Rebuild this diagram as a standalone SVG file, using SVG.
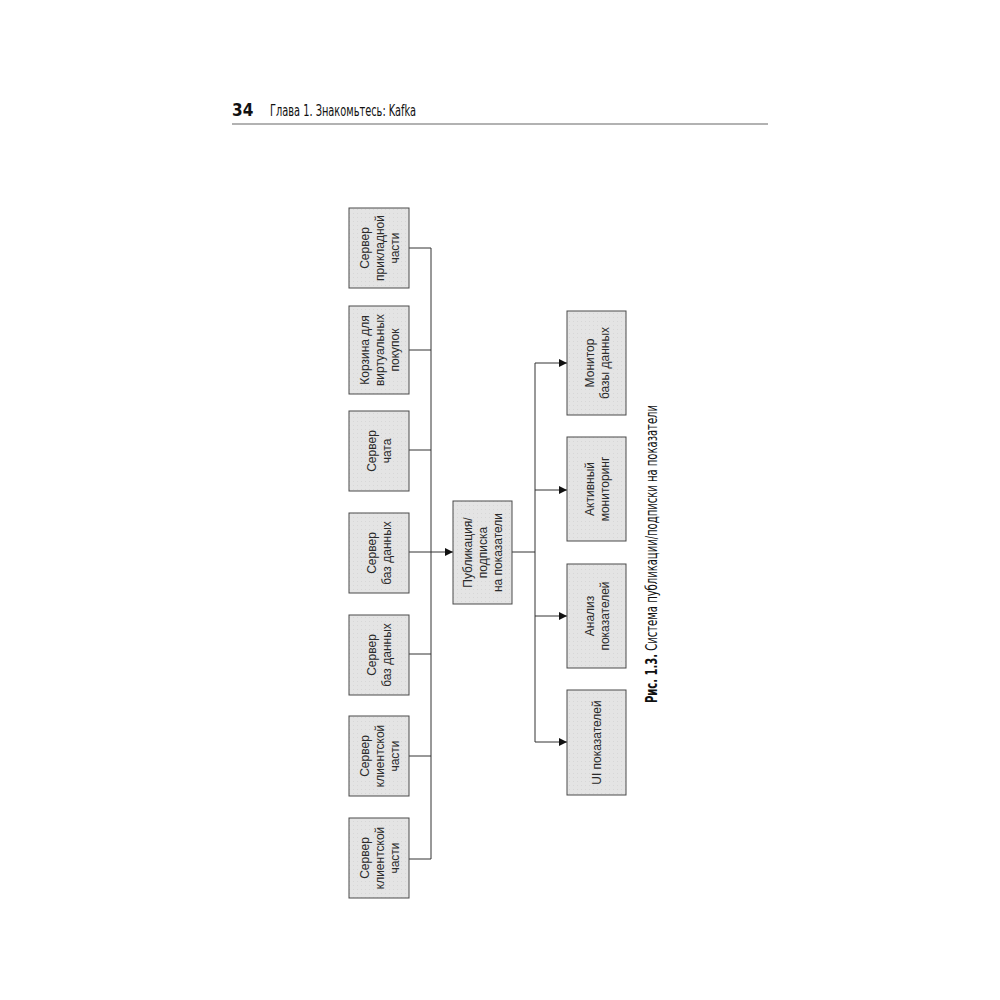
<svg xmlns="http://www.w3.org/2000/svg" width="1000" height="1000" viewBox="0 0 1000 1000">
<defs>
<pattern id="dots" width="4" height="4" patternUnits="userSpaceOnUse">
<rect width="4" height="4" fill="#e4e4e4"/>
<rect x="1" y="1" width="0.8" height="0.8" fill="#d0d0d0"/>
</pattern>
<marker id="arr" viewBox="0 0 10 10" refX="10" refY="5" markerWidth="10" markerHeight="8" markerUnits="userSpaceOnUse" orient="auto">
<path d="M0,0 L10,5 L0,10 Z" fill="#111"/>
</marker>
</defs>
<style>
.box{fill:url(#dots);stroke:#4a4a4a;stroke-width:1}
.t{font-family:"Liberation Sans",Arial,sans-serif;font-size:12px;fill:#2a2a2a;text-anchor:middle}
.ln{fill:none;stroke:#333;stroke-width:1}
.hdr{font-family:"Liberation Sans Narrow","DejaVu Sans Condensed","Liberation Sans",sans-serif;fill:#111}
</style>
<rect width="1000" height="1000" fill="#fff"/>
<g id="header">
<text class="hdr" x="232" y="116" font-size="17" font-weight="bold">34</text>
<text class="hdr" x="270" y="116" font-size="15" textLength="146" lengthAdjust="spacingAndGlyphs">Глава 1. Знакомьтесь: Kafka</text>
<line x1="232" y1="124" x2="768" y2="124" stroke="#999" stroke-width="1.5"/>
</g>
<g id="connectors">
<path class="ln" d="M409,248 H431 M409,350 H431 M409,450 H431 M409,654 H431 M409,756 H431 M409,859 H431 M431,248 V859"/>
<path class="ln" d="M409,552 H453" marker-end="url(#arr)"/>
<path class="ln" d="M512,552 H535 M535,363 V742"/>
<path class="ln" d="M535,363 H567" marker-end="url(#arr)"/>
<path class="ln" d="M535,490 H567" marker-end="url(#arr)"/>
<path class="ln" d="M535,616 H567" marker-end="url(#arr)"/>
<path class="ln" d="M535,742 H567" marker-end="url(#arr)"/>
</g>
<g id="n1"><rect class="box" x="349" y="208" width="60" height="80"/>
<text class="t" transform="translate(379,248) rotate(-90)"><tspan x="0" y="-10.5">Сервер</tspan><tspan x="0" y="4.5">прикладной</tspan><tspan x="0" y="19.5">части</tspan></text></g>
<g id="n2"><rect class="box" x="349" y="306" width="60" height="88"/>
<text class="t" transform="translate(379,350) rotate(-90)"><tspan x="0" y="-10.5">Корзина для</tspan><tspan x="0" y="4.5">виртуальных</tspan><tspan x="0" y="19.5">покупок</tspan></text></g>
<g id="n3"><rect class="box" x="349" y="411" width="60" height="80"/>
<text class="t" transform="translate(379,451) rotate(-90)"><tspan x="0" y="-3">Сервер</tspan><tspan x="0" y="12">чата</tspan></text></g>
<g id="n4"><rect class="box" x="349" y="513" width="60" height="80"/>
<text class="t" transform="translate(379,553) rotate(-90)"><tspan x="0" y="-3">Сервер</tspan><tspan x="0" y="12">баз данных</tspan></text></g>
<g id="n5"><rect class="box" x="349" y="615" width="60" height="80"/>
<text class="t" transform="translate(379,655) rotate(-90)"><tspan x="0" y="-3">Сервер</tspan><tspan x="0" y="12">баз данных</tspan></text></g>
<g id="n6"><rect class="box" x="349" y="716" width="60" height="80"/>
<text class="t" transform="translate(379,756) rotate(-90)"><tspan x="0" y="-10.5">Сервер</tspan><tspan x="0" y="4.5">клиентской</tspan><tspan x="0" y="19.5">части</tspan></text></g>
<g id="n7"><rect class="box" x="349" y="818" width="60" height="80"/>
<text class="t" transform="translate(379,858) rotate(-90)"><tspan x="0" y="-10.5">Сервер</tspan><tspan x="0" y="4.5">клиентской</tspan><tspan x="0" y="19.5">части</tspan></text></g>
<g id="hub"><rect class="box" x="453" y="501" width="59" height="103"/>
<text class="t" transform="translate(482.5,552.5) rotate(-90)"><tspan x="0" y="-10.5">Публикация/</tspan><tspan x="0" y="4.5">подписка</tspan><tspan x="0" y="19.5">на показатели</tspan></text></g>
<g id="m1"><rect class="box" x="567" y="311" width="59" height="104"/>
<text class="t" transform="translate(596.5,363) rotate(-90)"><tspan x="0" y="-3">Монитор</tspan><tspan x="0" y="12">базы данных</tspan></text></g>
<g id="m2"><rect class="box" x="567" y="437" width="59" height="104"/>
<text class="t" transform="translate(596.5,489) rotate(-90)"><tspan x="0" y="-3">Активный</tspan><tspan x="0" y="12">мониторинг</tspan></text></g>
<g id="m3"><rect class="box" x="567" y="564" width="59" height="104"/>
<text class="t" transform="translate(596.5,616) rotate(-90)"><tspan x="0" y="-3">Анализ</tspan><tspan x="0" y="12">показателей</tspan></text></g>
<g id="m4"><rect class="box" x="567" y="690" width="59" height="105"/>
<text class="t" transform="translate(596.5,742.5) rotate(-90)"><tspan x="0" y="4.5">UI показателей</tspan></text></g>
<g id="caption">
<text class="hdr" font-size="15" transform="translate(657,703) rotate(-90)" textLength="298" lengthAdjust="spacingAndGlyphs"><tspan font-weight="bold">Рис. 1.3.</tspan> Система публикации/подписки на показатели</text>
</g>
</svg>
